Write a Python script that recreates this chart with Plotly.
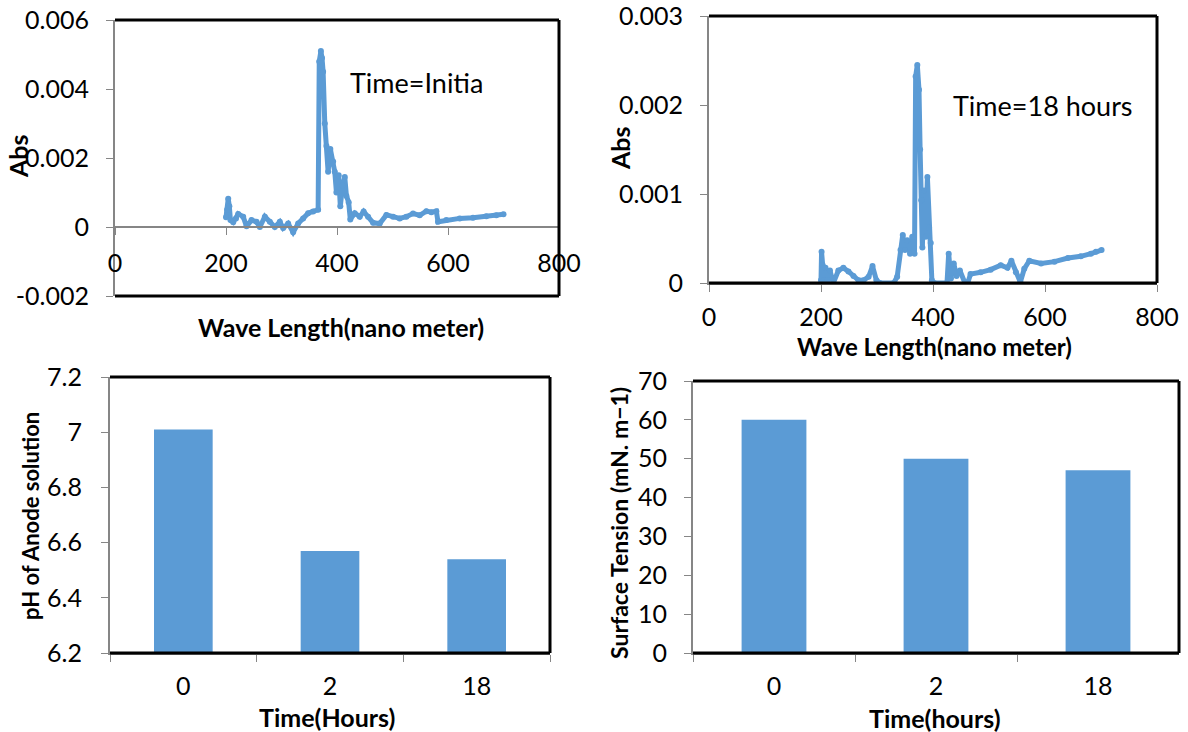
import plotly.graph_objects as go

# ---------------- data ----------------
wl_initial = [200, 202, 204, 206, 208, 213, 218, 222, 231, 237,
              246, 255, 261, 270, 279, 288, 297, 303, 312, 321,
              330, 339, 348, 357, 366, 368, 371, 373, 375, 378,
              381, 384, 388, 393, 396, 399, 403, 406, 410, 414,
              417, 421, 424, 432, 441, 448, 456, 465, 477, 489,
              501, 513, 525, 537, 549, 561, 570, 579, 582, 597,
              621, 645, 669, 687, 700]
abs_initial = [0.00028, 0.0005, 0.00082, 0.0006, 0.0002, 0.00014, 0.00025, 0.00038, 0.0003, 0.00002,
               0.0002, 0.00015, 0.0, 0.0003, 0.00015, 0.0, 0.00015, -0.00003, 0.0001, -0.00015,
               0.0001, 0.00025, 0.0004, 0.00045, 0.0005, 0.0048, 0.0051, 0.0049, 0.0045, 0.003,
               0.00235, 0.0016, 0.00226, 0.0019, 0.0016, 0.001, 0.0015, 0.0006, 0.0012, 0.00145,
               0.0009, 0.00072, 0.00022, 0.0004, 0.0003, 0.00045, 0.0003, 0.00012, 0.0001, 0.00035,
               0.0003, 0.00025, 0.0003, 0.00039, 0.00034, 0.00046, 0.00043, 0.00046, 0.00015, 0.0002,
               0.00025, 0.00027, 0.00031, 0.00034, 0.00037]

wl_18h = [200, 201, 203, 205, 208, 212, 216, 222, 231, 240,
          249, 258, 267, 276, 285, 292, 299, 305, 330, 336,
          342, 346, 350, 354, 359, 363, 367, 369, 372, 375,
          377, 379, 381, 384, 387, 390, 393, 396, 398, 402,
          425, 428, 432, 437, 442, 448, 457, 462, 467, 485,
          503, 521, 533, 540, 548, 556, 563, 572, 593, 617,
          641, 664, 682, 691, 701]
abs_18h = [0.00003, 0.00035, 0.0002, 0.00003, 0.00017, 0.00003, 0.00014, 0.0, 0.00014, 0.00017,
           0.00013, 0.00008, 0.00003, 0.00003, 0.00007, 0.00019, 0.00003, 0.0, 0.0, 0.00007,
           0.00037, 0.00054, 0.00037, 0.00048, 0.00033, 0.00052, 0.00033, 0.00232, 0.00245, 0.00217,
           0.0015, 0.00093, 0.0004, 0.00104, 0.00052, 0.00119, 0.00062, 0.00045, 0.00003, 0.0,
           0.0, 0.00033, 0.00005, 0.00022, 0.00008, 0.00014, 0.0, 0.0, 0.0001, 0.00012,
           0.00015, 0.0002, 0.00017, 0.00025, 0.00012, 0.00001, 0.00016, 0.00025, 0.00022, 0.00024,
           0.00028, 0.0003, 0.00033, 0.00035, 0.00037]

time_labels = ["0", "2", "18"]
ph_values = [7.01, 6.57, 6.54]
surface_tension = [60, 50, 47]

abs1_ticks = [-0.002, 0, 0.002, 0.004, 0.006]
abs1_ticktext = ["-0.002", "0", "0.002", "0.004", "0.006"]
abs2_ticks = [0, 0.001, 0.002, 0.003]
abs2_ticktext = ["0", "0.001", "0.002", "0.003"]

# ---------------- style ----------------
W, H = 1188, 732
BLUE = "#5B9BD5"
GRAY = "#868686"
FONT = "Lato, Carlito, Calibri, sans-serif"
TICK_SIZE = 25
TITLE_SIZE = 25


def px_x(px):
    return px / W


def px_y(py):
    return 1 - py / H


fig = go.Figure()

# spectra
fig.add_trace(go.Scatter(x=wl_initial, y=abs_initial, mode="lines+markers",
                         line=dict(color=BLUE, width=5), marker=dict(color=BLUE, size=6),
                         xaxis="x", yaxis="y", showlegend=False))
fig.add_trace(go.Scatter(x=wl_18h, y=abs_18h, mode="lines+markers",
                         line=dict(color=BLUE, width=5), marker=dict(color=BLUE, size=6),
                         xaxis="x2", yaxis="y2", showlegend=False))
# bars
fig.add_trace(go.Bar(x=time_labels, y=ph_values, marker=dict(color=BLUE, line=dict(width=0)),
                     width=0.4, xaxis="x3", yaxis="y3", showlegend=False))
fig.add_trace(go.Bar(x=time_labels, y=surface_tension, marker=dict(color=BLUE, line=dict(width=0)),
                     width=0.4, xaxis="x4", yaxis="y4", showlegend=False))

tickfont = dict(family=FONT, size=TICK_SIZE, color="#000000")

# domains (paper)
d1x = [px_x(115), px_x(559)]
d1y = [px_y(296), px_y(20)]
d2x = [px_x(709), px_x(1157)]
d2y = [px_y(283), px_y(16)]
d3x = [px_x(110), px_x(550)]
d3y = [px_y(653), px_y(377)]
d4x = [px_x(693), px_x(1179)]
d4y = [px_y(653), px_y(381)]

y1_range = [-0.002, 0.006]
zero_pos = d1y[0] + (0 - y1_range[0]) / (y1_range[1] - y1_range[0]) * (d1y[1] - d1y[0])

common_axis = dict(showgrid=False, zeroline=False, showline=True, linecolor=GRAY, linewidth=2,
                   ticks="outside", ticklen=7, tickcolor=GRAY, tickwidth=1, tickfont=tickfont,
                   automargin=False, ticklabeloverflow="allow")

fig.update_layout(
    width=W, height=H, margin=dict(l=0, r=0, t=0, b=0, autoexpand=False),
    paper_bgcolor="white", plot_bgcolor="white",
    font=dict(family=FONT, color="#000000"),
    xaxis=dict(domain=d1x, range=[0, 800], dtick=200, anchor="free", position=zero_pos,
               ticklabelstandoff=7, **common_axis),
    yaxis=dict(domain=d1y, range=y1_range, tickmode="array", tickvals=abs1_ticks,
               ticktext=abs1_ticktext, anchor="x", ticklabelstandoff=12, **common_axis),
    xaxis2=dict(domain=d2x, range=[0, 800], dtick=200, anchor="y2",
                ticklabelstandoff=4, **common_axis),
    yaxis2=dict(domain=d2y, range=[0, 0.003], tickmode="array", tickvals=abs2_ticks,
                ticktext=abs2_ticktext, anchor="x2", ticklabelstandoff=12, **common_axis),
    xaxis3=dict(domain=d3x, anchor="y3", type="category", tickson="boundaries",
                ticklabelstandoff=10, **common_axis),
    yaxis3=dict(domain=d3y, range=[6.2, 7.2], dtick=0.2, anchor="x3",
                ticklabelstandoff=14, **common_axis),
    xaxis4=dict(domain=d4x, anchor="y4", type="category", tickson="boundaries",
                ticklabelstandoff=10, **common_axis),
    yaxis4=dict(domain=d4y, range=[0, 70], dtick=10, anchor="x4",
                ticklabelstandoff=12, **common_axis),
)

# black frame lines (top / right / bottom)
shapes = []
for xr, yr in [("x", "y"), ("x2", "y2"), ("x3", "y3"), ("x4", "y4")]:
    xd, yd = xr + " domain", yr + " domain"
    shapes.append(dict(type="line", xref=xd, yref=yd, x0=0, x1=1, y0=1, y1=1,
                       line=dict(color="black", width=3)))
    shapes.append(dict(type="line", xref=xd, yref=yd, x0=1, x1=1, y0=0, y1=1,
                       line=dict(color="black", width=3)))
    shapes.append(dict(type="line", xref=xd, yref=yd, x0=0, x1=1, y0=0, y1=0,
                       line=dict(color="black", width=3)))
# gray zero line for first panel
shapes.append(dict(type="line", xref="x domain", yref="y", x0=0, x1=1, y0=0, y1=0,
                   line=dict(color=GRAY, width=2), layer="below"))
fig.update_layout(shapes=shapes)

bold = dict(family=FONT, size=TITLE_SIZE, color="#000000")
ann = []


def add_text(text, px, py, font, angle=0):
    ann.append(dict(text=text, x=px_x(px), y=px_y(py), xref="paper", yref="paper",
                    xanchor="center", yanchor="middle", showarrow=False, textangle=angle,
                    font=font))


add_text("<b>Abs</b>", 18, 156, dict(family=FONT, size=25, color="#000000"), -90)
add_text("<b>Wave Length(nano meter)</b>", 341, 327, bold)
add_text("<b>Abs</b>", 620, 148, dict(family=FONT, size=25, color="#000000"), -90)
add_text("<b>Wave Length(nano meter)</b>", 934, 346, dict(family=FONT, size=24, color="#000000"))
add_text("<b>pH of Anode solution</b>", 30, 516, dict(family=FONT, size=22, color="#000000"), -90)
add_text("<b>Time(Hours)</b>", 327, 717, bold)
add_text("<b>Surface Tension (mN. m−1)</b>", 619, 523, dict(family=FONT, size=23, color="#000000"), -90)
add_text("<b>Time(hours)</b>", 935, 718, bold)
add_text("Time=Initia", 416, 83, dict(family=FONT, size=27, color="#000000"))
add_text("Time=18 hours", 1043, 105, dict(family=FONT, size=27, color="#000000"))
fig.update_layout(annotations=ann)

fig.write_html("out.html", config={"displayModeBar": False},
               post_script="document.body.style.margin='0';document.body.style.overflow='hidden';")
